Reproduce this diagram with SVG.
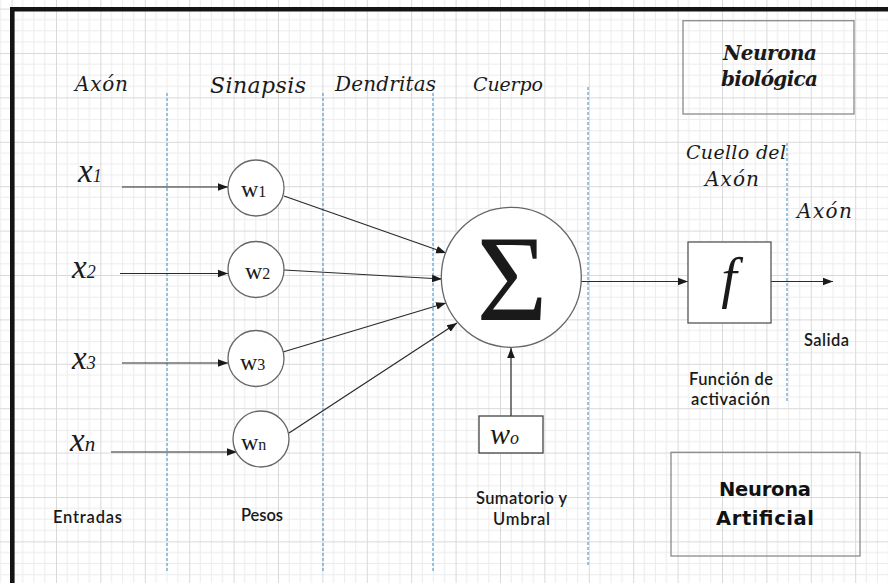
<svg xmlns="http://www.w3.org/2000/svg" width="888" height="583" viewBox="0 0 888 583">
  <defs>
    <!-- graph-paper background: fine 11.1px cells, heavier line every 4 cells -->
    <pattern id="grid" patternUnits="userSpaceOnUse" x="11.6" y="8.6" width="44.4" height="44.4">
      <path d="M11.1 0V44.4M22.2 0V44.4M33.3 0V44.4M0 11.1H44.4M0 22.2H44.4M0 33.3H44.4" stroke="#ececec" stroke-width="1" fill="none"/>
      <path d="M0.5 0V44.4M0 0.5H44.4" stroke="#d9d9d9" stroke-width="1" fill="none"/>
    </pattern>
    <marker id="arrow" viewBox="0 0 10 10" refX="10" refY="5" markerWidth="10" markerHeight="10" markerUnits="userSpaceOnUse" orient="auto">
      <path d="M0 1.2L10 5L0 8.8Z" fill="#1a1a1a"/>
    </marker>
  </defs>
  <style>
    .script { font-family: "DejaVu Serif", "Liberation Serif", serif; font-style: italic; fill: #1a1a1a; }
    .xvar { font-family: "Liberation Serif", "DejaVu Serif", serif; font-style: italic; fill: #1a1a1a; }
    .sans { font-family: "Lato", "Open Sans", "Liberation Sans", sans-serif; font-weight: 600; fill: #1a1a1a; font-size: 16.5px; }
    .heavy { font-family: "DejaVu Sans", "Liberation Sans", sans-serif; font-weight: bold; fill: #111111; font-size: 19.5px; }
    .serif { font-family: "Liberation Serif", "DejaVu Serif", serif; fill: #1a1a1a; }
    .node { fill: #ffffff; stroke: #666666; stroke-width: 1.3; }
    .frame { fill: none; stroke: #8a8a8a; stroke-width: 1.3; }
    .zone { stroke: #5a9fd0; stroke-width: 1.2; stroke-dasharray: 3 2; fill: none; }
    .link { stroke: #2a2a2a; stroke-width: 1.2; fill: none; marker-end: url(#arrow); }
  </style>

  <rect width="888" height="583" fill="#ffffff"/>
  <rect width="888" height="583" fill="url(#grid)"/>

  <!-- heavy frame on top and left -->
  <path d="M12.3 583V9.2H888" fill="none" stroke="#141414" stroke-width="4.6"/>

  <!-- dashed region separators -->
  <g id="zones">
    <line class="zone" x1="167" y1="93" x2="167" y2="573"/>
    <line class="zone" x1="323" y1="93" x2="323" y2="573"/>
    <line class="zone" x1="433" y1="93" x2="433" y2="573"/>
    <line class="zone" x1="588" y1="87" x2="588" y2="567"/>
    <line class="zone" x1="787" y1="143" x2="787" y2="401"/>
  </g>

  <!-- region headings -->
  <g id="headings">
    <text class="script" x="75" y="91" font-size="20" textLength="53">Axón</text>
    <text class="script" x="210" y="93" font-size="22" textLength="96">Sinapsis</text>
    <text class="script" x="335" y="91" font-size="20" textLength="101">Dendritas</text>
    <text class="script" x="473" y="91" font-size="19" textLength="70">Cuerpo</text>
    <text class="script" x="686" y="159" font-size="19" textLength="100">Cuello del</text>
    <text class="script" x="705" y="186" font-size="20" textLength="54">Axón</text>
    <text class="script" x="797" y="218" font-size="20" textLength="55">Axón</text>
  </g>

  <!-- connectors -->
  <g id="connectors">
    <line class="link" x1="122" y1="187" x2="228" y2="187"/>
    <line class="link" x1="120" y1="273.5" x2="228" y2="273.5"/>
    <line class="link" x1="122" y1="363" x2="228" y2="363"/>
    <line class="link" x1="111" y1="452" x2="237" y2="452"/>
    <line class="link" x1="284" y1="196" x2="446" y2="253"/>
    <line class="link" x1="284" y1="270" x2="442" y2="279"/>
    <line class="link" x1="283" y1="352" x2="446" y2="303"/>
    <line class="link" x1="289" y1="433" x2="457" y2="323"/>
    <line class="link" x1="511" y1="416" x2="511" y2="348"/>
    <line class="link" x1="581" y1="281.5" x2="688" y2="281.5"/>
    <line class="link" x1="771" y1="281.5" x2="833" y2="281.5"/>
  </g>

  <!-- inputs -->
  <g id="x1"><text class="xvar" x="78" y="182" font-size="33">x<tspan font-size="18">1</tspan></text></g>
  <g id="x2"><text class="xvar" x="72" y="278" font-size="33">x<tspan font-size="18">2</tspan></text></g>
  <g id="x3"><text class="xvar" x="72" y="369" font-size="33">x<tspan font-size="18">3</tspan></text></g>
  <g id="xn"><text class="xvar" x="70" y="451" font-size="33">x<tspan font-size="21">n</tspan></text></g>

  <!-- weights -->
  <g id="w1">
    <circle class="node" cx="256" cy="188" r="28"/>
    <text class="serif" x="241" y="197" font-size="24">w<tspan font-size="16">1</tspan></text>
  </g>
  <g id="w2">
    <circle class="node" cx="256" cy="269.5" r="28"/>
    <text class="serif" x="245" y="279" font-size="24">w<tspan font-size="16">2</tspan></text>
  </g>
  <g id="w3">
    <circle class="node" cx="256" cy="358.5" r="28"/>
    <text class="serif" x="240" y="370" font-size="24">w<tspan font-size="16">3</tspan></text>
  </g>
  <g id="wn">
    <circle class="node" cx="261" cy="439" r="28"/>
    <text class="serif" x="241" y="450" font-size="24">w<tspan font-size="16">n</tspan></text>
  </g>

  <!-- summation body -->
  <g id="sum">
    <circle class="node" cx="511.3" cy="277.3" r="70"/>
    <text class="serif" x="512" y="320" font-size="122" text-anchor="middle">Σ</text>
  </g>

  <!-- bias / threshold -->
  <g id="w0">
    <rect x="479" y="416" width="64" height="37" fill="#ffffff" stroke="#444444" stroke-width="1.3"/>
    <text class="xvar" x="490" y="444" font-size="30">w<tspan font-size="18">o</tspan></text>
  </g>

  <!-- activation function -->
  <g id="f">
    <rect x="688" y="242" width="83" height="81" fill="#ffffff" stroke="#555555" stroke-width="1.3"/>
    <text class="xvar" x="729" y="297" font-size="56" text-anchor="middle">f</text>
  </g>

  <!-- captions -->
  <g id="captions">
    <text class="sans" x="53" y="523" textLength="69">Entradas</text>
    <text class="sans" x="241" y="521" textLength="42">Pesos</text>
    <text class="sans" x="476" y="504" textLength="91">Sumatorio y</text>
    <text class="sans" x="493" y="525" textLength="57">Umbral</text>
    <text class="sans" x="689" y="385" textLength="84">Función de</text>
    <text class="sans" x="691" y="405" textLength="79">activación</text>
    <text class="sans" x="804" y="346" textLength="45">Salida</text>
  </g>

  <!-- legend boxes -->
  <g id="biological">
    <rect class="frame" x="683" y="20.7" width="171" height="93.3"/>
    <text class="script" x="723" y="60" font-size="20" font-weight="bold" textLength="94">Neurona</text>
    <text class="script" x="721" y="86" font-size="20" font-weight="bold" textLength="97">biológica</text>
  </g>
  <g id="artificial">
    <rect class="frame" x="671" y="452.3" width="189" height="103.7"/>
    <text class="heavy" x="719" y="496" textLength="92">Neurona</text>
    <text class="heavy" x="716" y="525" textLength="98">Artificial</text>
  </g>
</svg>
